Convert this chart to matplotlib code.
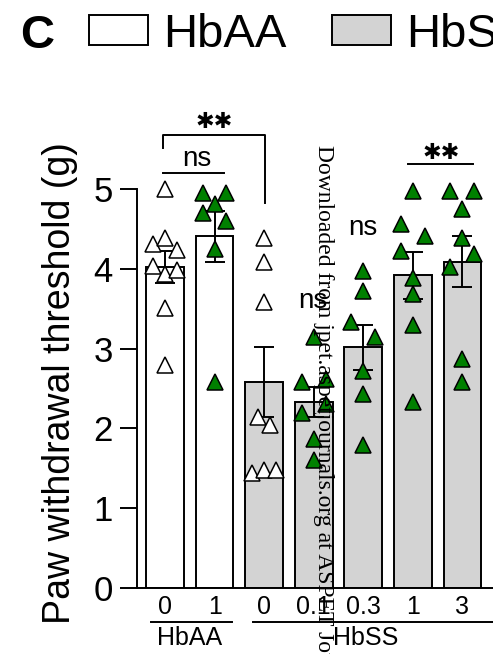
import numpy as np
import matplotlib.pyplot as plt
from matplotlib.patches import Rectangle

plt.rcParams['font.family'] = ['Liberation Sans', 'DejaVu Sans']

# groups: HbAA vehicle/drug, HbSS vehicle + dose series
dose_labels = ['0', '1', '0', '0.1', '0.3', '1', '3']
genotype = ['HbAA', 'HbAA', 'HbSS', 'HbSS', 'HbSS', 'HbSS', 'HbSS']
treated = [False, True, False, True, True, True, True]

# individual paw withdrawal thresholds (g)
hbaa_0 = [5.0, 4.31, 4.38, 4.23, 4.04, 3.94, 3.98, 3.51, 2.79]
hbaa_1 = [4.95, 4.95, 4.81, 4.70, 4.60, 4.25, 2.58]
hbss_0 = [4.38, 4.08, 3.58, 2.14, 2.04, 1.44, 1.48, 1.48]
hbss_01 = [3.14, 2.58, 2.62, 2.19, 2.31, 1.87, 1.60]
hbss_03 = [3.97, 3.72, 3.33, 3.14, 2.72, 2.43, 1.79]
hbss_1 = [4.97, 4.56, 4.41, 4.22, 3.88, 3.69, 3.29, 2.33]
hbss_3 = [4.97, 4.97, 4.75, 4.38, 4.19, 4.02, 2.87, 2.58]
groups = [hbaa_0, hbaa_1, hbss_0, hbss_01, hbss_03, hbss_1, hbss_3]

# horizontal scatter slot of each point (-1 left, 0 centre, 1 right)
jitter = [
    [0, -1, 0, 1, -1, 0, 1, 0, 0],
    [-1, 1, 0, -1, 1, 0, 0],
    [0, 0, 0, -0.5, 0.5, -1, 0, 1],
    [0, -1, 1, -1, 1, 0, 0],
    [0, 0, -1, 1, 0, 0, 0],
    [0, -1, 1, -1, 0, 0, 0, 0],
    [-1, 1, 0, 0, 1, -1, 0, 0],
]

W, H = 493, 654
GREEN = '#008000'
GRAY = '#d3d3d3'

means = np.array([np.mean(g) for g in groups])
sems = np.array([np.std(g, ddof=1) / np.sqrt(len(g)) for g in groups])
x = np.arange(len(groups))

fig = plt.figure(figsize=(W / 100, H / 100), dpi=100)
ax = fig.add_axes([137 / W, (H - 588) / H, 370 / W, (588 - 189) / H])

fills = ['white' if g == 'HbAA' else GRAY for g in genotype]
ax.bar(x, means, width=0.76, color=fills, edgecolor='black', linewidth=1.4, zorder=1)
ax.errorbar(x, means, yerr=sems, fmt='none', ecolor='black', elinewidth=1.4,
            capsize=7, capthick=1.4, zorder=2)
for i, vals in enumerate(groups):
    mfc = GREEN if treated[i] else 'white'
    ax.plot(x[i] + np.array(jitter[i]) * 0.24, vals, ls='none', marker='^',
            ms=11.5, mfc=mfc, mec='black', mew=1.1, clip_on=False, zorder=3)

ax.set_xlim(-0.565, 6.9)
ax.set_ylim(0, 5)
ax.set_yticks(range(6))
ax.set_xticks(x)
ax.set_xticklabels(dose_labels, fontsize=18)
ax.tick_params(axis='y', labelsize=25, length=12, width=1.4, pad=5.5)
ax.tick_params(axis='x', length=0, pad=5)
for s in ['top', 'right']:
    ax.spines[s].set_visible(False)
for s in ['left', 'bottom']:
    ax.spines[s].set_linewidth(1.4)

fig.text(60 / W, 1 - 383 / H, 'Paw withdrawal threshold (g)', rotation=90,
         ha='center', va='center', fontsize=27)

# genotype group labels below the doses
line_kw = dict(color='black', lw=1.4, clip_on=False)
ax.plot([-0.28, 1.35], [-0.425, -0.425], **line_kw)
ax.plot([1.77, 7.5], [-0.425, -0.425], **line_kw)
ax.text(0.5, -0.63, 'HbAA', ha='center', va='center', fontsize=18)
ax.text(4.05, -0.63, 'HbSS', ha='center', va='center', fontsize=18)

# significance marks
star_kw = dict(ha='center', va='center', fontsize=16, family=['DejaVu Sans'])
ax.plot([-0.04, -0.04, 2.02, 2.02], [5.51, 5.675, 5.675, 4.825], **line_kw)
ax.text(0.99, 5.84, '\u2731\u2731', **star_kw)
ax.plot([-0.04, 1.2], [5.2, 5.2], **line_kw)
ax.text(0.65, 5.38, 'ns', ha='center', va='center', fontsize=20)
ax.plot([4.9, 6.21], [5.31, 5.31], **line_kw)
ax.text(5.58, 5.45, '\u2731\u2731', **star_kw)
ax.text(2.98, 3.6, 'ns', ha='center', va='center', fontsize=20)
ax.text(3.99, 4.51, 'ns', ha='center', va='center', fontsize=20)

# panel letter and legend
fig.text(20 / W, 1 - 48 / H, 'C', fontsize=34, fontweight='bold', va='baseline')
for bx, fc, lab in [(89, 'white', 'HbAA'), (332, GRAY, 'HbSS')]:
    fig.add_artist(Rectangle((bx / W, 1 - 45 / H), 59 / W, 30 / H,
                             transform=fig.transFigure, fc=fc, ec='black', lw=1.4))
    fig.text((bx + 74) / W, 1 - 47 / H, lab, fontsize=34, va='baseline')

fig.text(318 / W, 1 - 145 / H,
         'Downloaded from jpet.aspetjournals.org at ASPET Journals on',
         rotation=-90, rotation_mode='anchor', ha='left', va='baseline',
         family=['Liberation Serif'], fontsize=17, zorder=10)

fig.savefig('out.png', dpi=100)
